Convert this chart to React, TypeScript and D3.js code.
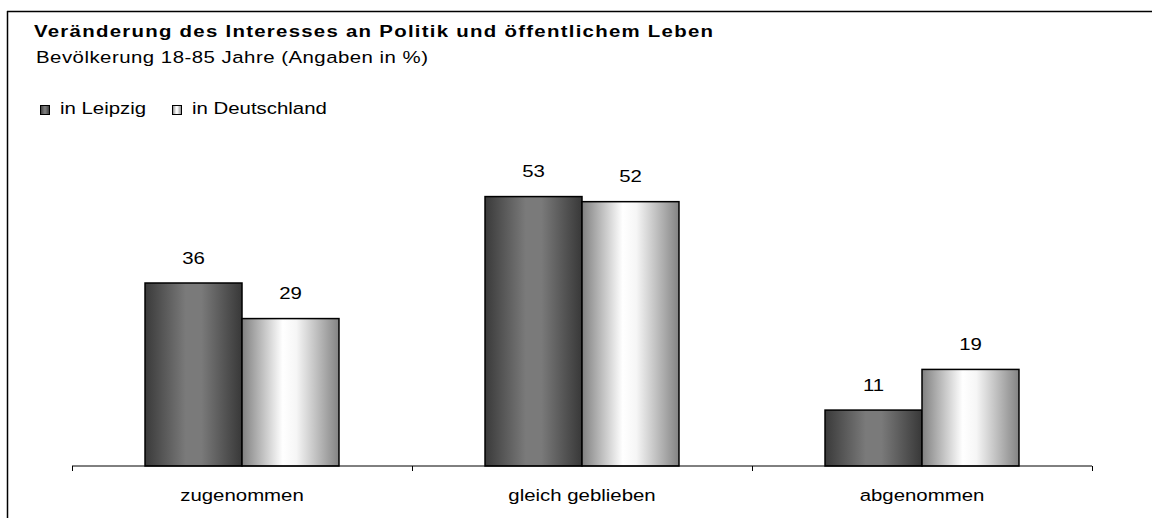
import React from "react";
import * as d3 from "d3";

// Chart data
const categories = ["zugenommen", "gleich geblieben", "abgenommen"];
const seriesNames = ["in Leipzig", "in Deutschland"];
const leipzig = [36, 53, 11];
const deutschland = [29, 52, 19];
const seriesValues = [leipzig, deutschland];

const title = "Veränderung des Interesses an Politik und öffentlichem Leben";
const subtitle = "Bevölkerung 18-85 Jahre (Angaben in %)";

const W = 1152;
const H = 518;
const FONT = "Liberation Sans, Arial, sans-serif";
const SX = 1.2; // horizontal glyph stretch
const FS = 17;

const plot = { left: 72, right: 1092, baseline: 466 };

const gradIds = ["gradLeipzig", "gradDeutschland"];

// Text stretched horizontally around its anchor point
function SText({ x, y, anchor = "start", bold = false, size = FS, length, children }: any) {
  return (
    <g transform={`translate(${x},${y}) scale(${SX},1)`}>
      <text
        x={0}
        y={0}
        textAnchor={anchor}
        fontFamily={FONT}
        fontSize={size}
        fontWeight={bold ? "bold" : "normal"}
        fill="#000"
        textLength={length}
        lengthAdjust={length ? "spacing" : undefined}
      >
        {children}
      </text>
    </g>
  );
}

export default function App() {
  const x0 = d3.scaleBand<string>().domain(categories).range([plot.left, plot.right]).padding(0);
  const x1 = d3
    .scaleBand<string>()
    .domain(seriesNames)
    .range([0, x0.bandwidth()])
    .paddingInner(0)
    .paddingOuter(0.753);
  const y = d3.scaleLinear().domain([0, 60]).range([plot.baseline, plot.baseline - 60 * 5.0833]);

  const tickXs = [...categories.map((c) => x0(c)!), plot.right];

  return (
    <svg
      width={W}
      height={H}
      style={{ position: "absolute", left: 0, top: 0, background: "#fff" }}
    >
      <defs>
        <linearGradient id={gradIds[0]} x1="0" x2="1" y1="0" y2="0">
          <stop offset="0" stopColor="#3a3a3a" />
          <stop offset="0.42" stopColor="#7a7a7a" />
          <stop offset="0.58" stopColor="#7a7a7a" />
          <stop offset="1" stopColor="#383838" />
        </linearGradient>
        <linearGradient id={gradIds[1]} x1="0" x2="1" y1="0" y2="0">
          <stop offset="0" stopColor="#808080" />
          <stop offset="0.42" stopColor="#ffffff" />
          <stop offset="0.56" stopColor="#f6f6f6" />
          <stop offset="1" stopColor="#838383" />
        </linearGradient>
      </defs>

      {/* frame */}
      <line x1={7.5} x2={7.5} y1={11} y2={H} stroke="#000" strokeWidth={1.5} />
      <line x1={7} x2={W} y1={11.5} y2={11.5} stroke="#000" strokeWidth={1.5} />

      {/* titles */}
      <SText x={34} y={37} bold length={679 / SX}>
        {title}
      </SText>
      <SText x={36} y={63} length={392 / SX}>
        {subtitle}
      </SText>

      {/* legend */}
      {seriesNames.map((s, i) => {
        const lx = [40, 172][i];
        return (
          <g key={s}>
            <rect
              x={lx + 0.5}
              y={105.5}
              width={9}
              height={9}
              fill={`url(#${gradIds[i]})`}
              stroke="#000"
              strokeWidth={1}
            />
            <SText x={lx + 20} y={114}>
              {s}
            </SText>
          </g>
        );
      })}

      {/* bars */}
      {categories.map((c, ci) => (
        <g key={c}>
          {seriesNames.map((s, si) => {
            const v = seriesValues[si][ci];
            const bx = x0(c)! + x1(s)!;
            const by = y(v);
            return (
              <g key={s}>
                <rect
                  x={bx}
                  y={by}
                  width={x1.bandwidth()}
                  height={plot.baseline - by}
                  fill={`url(#${gradIds[si]})`}
                  stroke="#000"
                  strokeWidth={1.5}
                />
                <SText x={bx + x1.bandwidth() / 2} y={by - 19.5} anchor="middle">
                  {v}
                </SText>
              </g>
            );
          })}
        </g>
      ))}

      {/* category axis */}
      <line x1={plot.left} x2={plot.right} y1={plot.baseline} y2={plot.baseline} stroke="#000" strokeWidth={1} />
      {tickXs.map((tx, i) => (
        <line key={i} x1={tx + 0.5} x2={tx + 0.5} y1={plot.baseline} y2={plot.baseline + 5} stroke="#000" strokeWidth={1} />
      ))}
      {categories.map((c) => (
        <SText key={c} x={x0(c)! + x0.bandwidth() / 2} y={501} anchor="middle">
          {c}
        </SText>
      ))}
    </svg>
  );
}
